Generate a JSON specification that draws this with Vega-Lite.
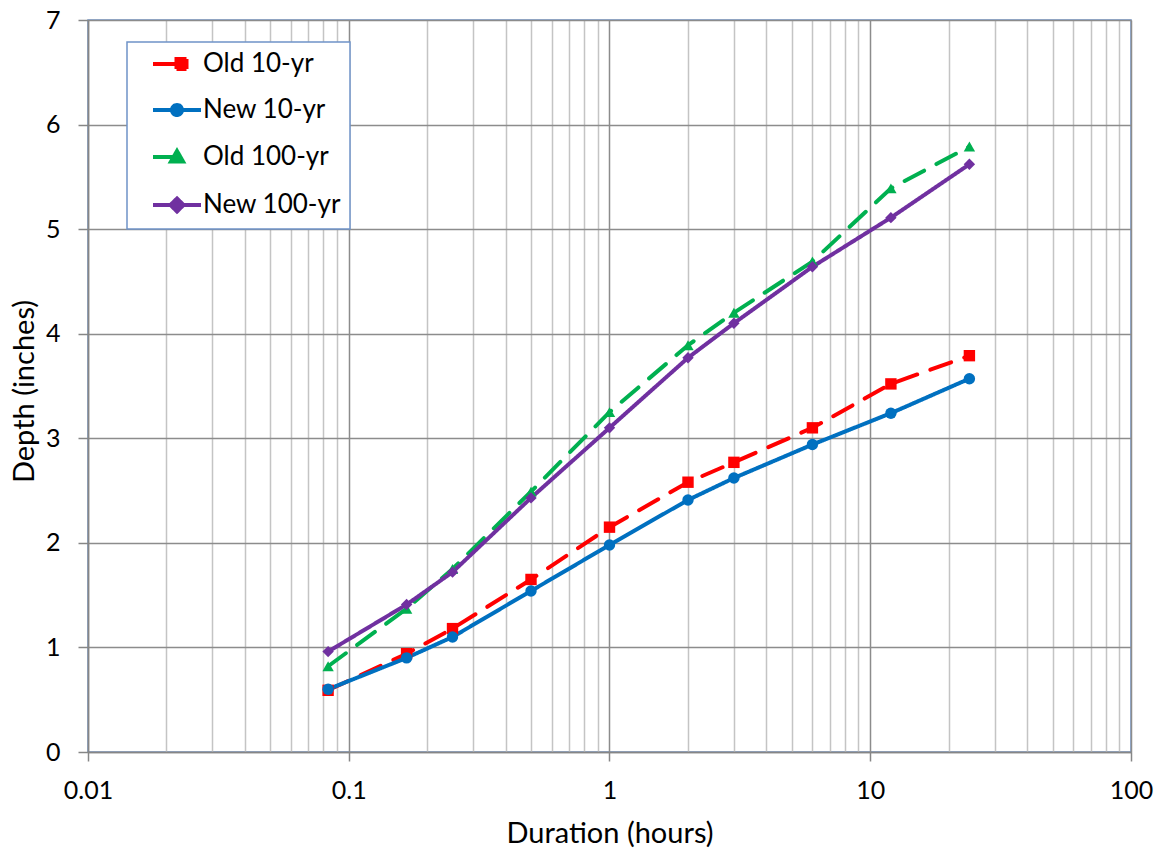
{
  "$schema": "https://vega.github.io/schema/vega-lite/v6.json",
  "width": 1043,
  "height": 732,
  "autosize": {"type": "none"},
  "padding": {"left": 88, "top": 20, "right": 29, "bottom": 102},
  "background": "white",
  "config": {
    "view": {"stroke": "#6F93C8", "strokeWidth": 1.5},
    "font": "Lato",
    "axis": {"labelFont": "Lato", "titleFont": "Lato", "labelColor": "black", "titleColor": "black", "titleFontWeight": "normal", "domainColor": "#868686", "domainWidth": 1.5}
  },
  "data": {"values": [
    {"d": 0.08333, "series": "Old 10-yr", "depth": 0.59},
    {"d": 0.16667, "series": "Old 10-yr", "depth": 0.94},
    {"d": 0.25, "series": "Old 10-yr", "depth": 1.18},
    {"d": 0.5, "series": "Old 10-yr", "depth": 1.65},
    {"d": 1, "series": "Old 10-yr", "depth": 2.15},
    {"d": 2, "series": "Old 10-yr", "depth": 2.58},
    {"d": 3, "series": "Old 10-yr", "depth": 2.77},
    {"d": 6, "series": "Old 10-yr", "depth": 3.10},
    {"d": 12, "series": "Old 10-yr", "depth": 3.52},
    {"d": 24, "series": "Old 10-yr", "depth": 3.79},
    {"d": 0.08333, "series": "New 10-yr", "depth": 0.60},
    {"d": 0.16667, "series": "New 10-yr", "depth": 0.90},
    {"d": 0.25, "series": "New 10-yr", "depth": 1.10},
    {"d": 0.5, "series": "New 10-yr", "depth": 1.54},
    {"d": 1, "series": "New 10-yr", "depth": 1.98},
    {"d": 2, "series": "New 10-yr", "depth": 2.41},
    {"d": 3, "series": "New 10-yr", "depth": 2.62},
    {"d": 6, "series": "New 10-yr", "depth": 2.94},
    {"d": 12, "series": "New 10-yr", "depth": 3.24},
    {"d": 24, "series": "New 10-yr", "depth": 3.57},
    {"d": 0.08333, "series": "Old 100-yr", "depth": 0.82},
    {"d": 0.16667, "series": "Old 100-yr", "depth": 1.37},
    {"d": 0.25, "series": "Old 100-yr", "depth": 1.75},
    {"d": 0.5, "series": "Old 100-yr", "depth": 2.49},
    {"d": 1, "series": "Old 100-yr", "depth": 3.25},
    {"d": 2, "series": "Old 100-yr", "depth": 3.89},
    {"d": 3, "series": "Old 100-yr", "depth": 4.20},
    {"d": 6, "series": "Old 100-yr", "depth": 4.69},
    {"d": 12, "series": "Old 100-yr", "depth": 5.39},
    {"d": 24, "series": "Old 100-yr", "depth": 5.79},
    {"d": 0.08333, "series": "New 100-yr", "depth": 0.96},
    {"d": 0.16667, "series": "New 100-yr", "depth": 1.41},
    {"d": 0.25, "series": "New 100-yr", "depth": 1.72},
    {"d": 0.5, "series": "New 100-yr", "depth": 2.43},
    {"d": 1, "series": "New 100-yr", "depth": 3.10},
    {"d": 2, "series": "New 100-yr", "depth": 3.77},
    {"d": 3, "series": "New 100-yr", "depth": 4.10},
    {"d": 6, "series": "New 100-yr", "depth": 4.64},
    {"d": 12, "series": "New 100-yr", "depth": 5.11},
    {"d": 24, "series": "New 100-yr", "depth": 5.62}
  ]},
  "encoding": {
    "x": {
      "field": "d", "type": "quantitative",
      "scale": {"type": "log", "domain": [0.01, 100], "nice": false},
      "axis": {
        "title": "Duration (hours)",
        "titleFontSize": 29,
        "titleBaseline": "alphabetic",
        "titleY": 90,
        "values": [0.01,0.02,0.03,0.04,0.05,0.06,0.07,0.08,0.09,0.1,0.2,0.3,0.4,0.5,0.6,0.7,0.8,0.9,1,2,3,4,5,6,7,8,9,10,20,30,40,50,60,70,80,90,100],
        "labelExpr": "abs(log(datum.value)/LN10 - round(log(datum.value)/LN10)) < 0.000001 ? format(datum.value, '~g') : ''",
        "labelFontSize": 25,
        "labelPadding": 17,
        "labelFlush": false,
        "labelOverlap": false,
        "tickSize": 9,
        "tickWidth": 1.5,
        "tickColor": {"condition": {"test": "abs(log(datum.value)/LN10 - round(log(datum.value)/LN10)) < 0.000001", "value": "#868686"}, "value": "transparent"},
        "grid": true,
        "gridColor": {"condition": {"test": "abs(log(datum.value)/LN10 - round(log(datum.value)/LN10)) < 0.000001", "value": "#8C8C8C"}, "value": "#C4C4C4"},
        "gridWidth": 1.5
      }
    },
    "y": {
      "field": "depth", "type": "quantitative",
      "scale": {"domain": [0, 7], "nice": false},
      "axis": {
        "title": "Depth (inches)",
        "titleFontSize": 29,
        "titleBaseline": "alphabetic",
        "titleX": -55,
        "titleY": 371,
        "values": [0,1,2,3,4,5,6,7],
        "labelFontSize": 25,
        "labelPadding": 18,
        "tickSize": 10,
        "tickWidth": 1.5,
        "tickColor": "#868686",
        "grid": true,
        "gridColor": "#8C8C8C",
        "gridWidth": 1.5
      }
    },
    "color": {
      "field": "series", "type": "nominal",
      "scale": {"domain": ["Old 10-yr", "New 10-yr", "Old 100-yr", "New 100-yr"], "range": ["#FF0000", "#0070C0", "#00B050", "#7030A0"]},
      "legend": {
        "title": null,
        "orient": "none",
        "legendX": 39,
        "legendY": 22,
        "fillColor": "white",
        "strokeColor": "#6F93C8",
        "padding": 9,
        "symbolOffset": 28,
        "symbolSize": 400,
        "labelOffset": 13,
        "labelFont": "Lato",
        "labelFontSize": 26,
        "labelColor": "black",
        "labelExpr": "datum.label + '     '",
        "rowPadding": 20,
        "encode": {
          "legend": {"update": {"strokeWidth": {"value": 1.5}}},
          "symbols": {
            "update": {
              "shape": {"signal": "datum.value === 'Old 10-yr' ? 'M-2.4,0H0M-0.05,-0.5H0.95V0.5H-0.05Z' : datum.value === 'New 10-yr' ? 'M-2.4,0H2.4M0.5,0A0.5,0.5,0,1,1,-0.5,0A0.5,0.5,0,1,1,0.5,0Z' : datum.value === 'Old 100-yr' ? 'M-2.4,0H0M0,-0.6L0.6,0.45L-0.6,0.45Z' : 'M-2.4,0H2.4M0,-0.65L0.65,0L0,0.65L-0.65,0Z'"},
              "fill": {"signal": "datum.value === 'Old 10-yr' ? '#FF0000' : datum.value === 'New 10-yr' ? '#0070C0' : datum.value === 'Old 100-yr' ? '#00B050' : '#7030A0'"},
              "stroke": {"signal": "datum.value === 'Old 10-yr' ? '#FF0000' : datum.value === 'New 10-yr' ? '#0070C0' : datum.value === 'Old 100-yr' ? '#00B050' : '#7030A0'"},
              "strokeWidth": {"value": 4},
              "strokeDash": {"value": [1, 0]},
              "opacity": {"value": 1},
              "fillOpacity": {"value": 1}
            }
          }
        }
      }
    }
  },
  "layer": [
    {
      "mark": {"type": "line", "strokeWidth": 4, "strokeCap": "round"},
      "encoding": {
        "strokeDash": {
          "field": "series", "type": "nominal",
          "scale": {"range": [[1, 0], [1, 0], [22, 14], [22, 14]]},
          "legend": null
        }
      }
    },
    {
      "mark": {"type": "point", "filled": true, "opacity": 1, "size": 130},
      "encoding": {
        "shape": {
          "field": "series", "type": "nominal",
          "scale": {"range": ["circle", "diamond", "square", "triangle-up"]},
          "legend": null
        }
      }
    }
  ]
}
